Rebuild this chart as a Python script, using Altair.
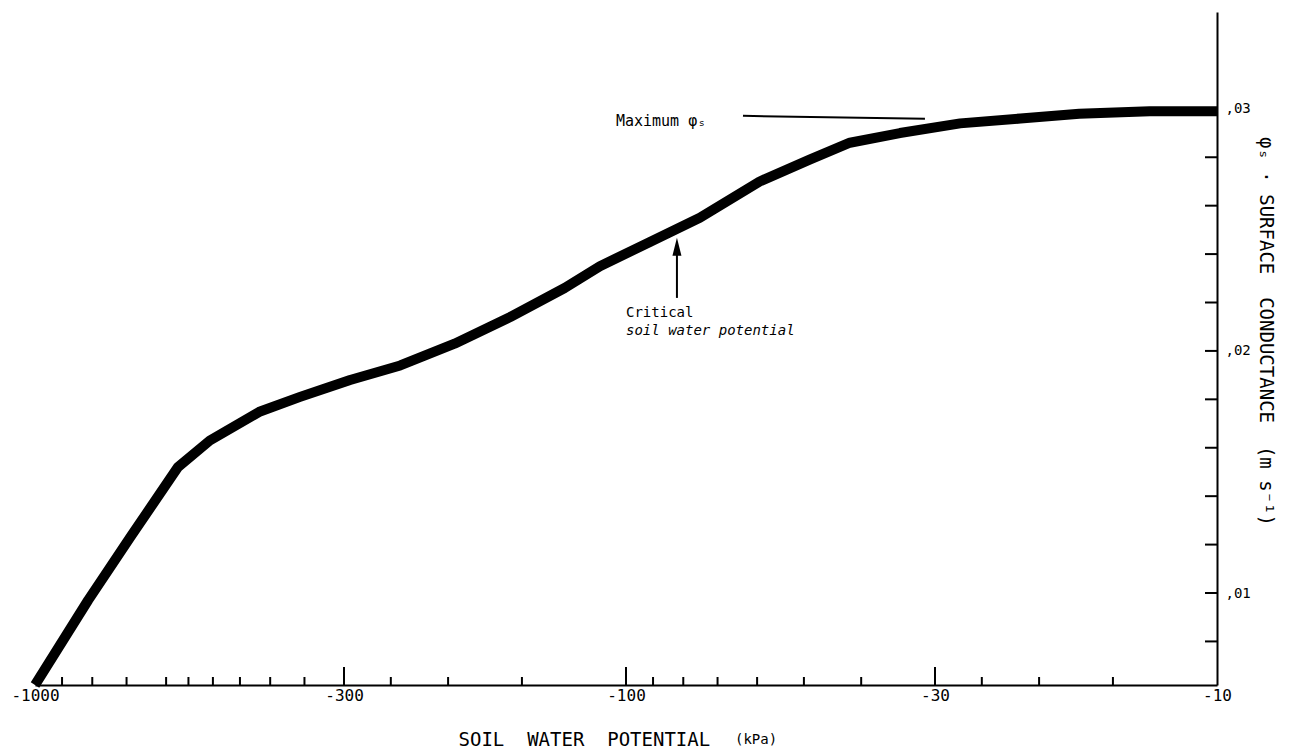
import altair as alt
import pandas as pd

# ---- data ----
psi = [1000, 813, 690, 573, 506, 416, 356, 293, 241, 195, 157, 127, 110.7,
       91.1, 75.0, 59.4, 48.9, 41.8, 34.4, 27.2, 21.5, 17.1, 13.0, 10]
cond = [0.0062, 0.0097, 0.0123, 0.0152, 0.0163, 0.0175, 0.0181, 0.0188,
        0.0194, 0.0203, 0.0214, 0.0226, 0.0235, 0.0245, 0.0255, 0.0270,
        0.0279, 0.0286, 0.0290, 0.0294, 0.0296, 0.0298, 0.0299, 0.0299]

x_label_values = [1000, 300, 100, 30, 10]
x_major_ticks = [300, 100, 30]
x_minor_ticks = [900, 800, 700, 600, 550, 500, 450, 400, 350, 250, 200, 150,
                 90, 80, 70, 60, 50, 40, 25, 20, 15]
y_label_values = [0.01, 0.02, 0.03]
y_ticks = [0.008, 0.010, 0.012, 0.014, 0.016, 0.018, 0.020, 0.022, 0.024,
           0.026, 0.028, 0.030]

max_label = ["Maximum φ\u209b"]
max_label_psi = [104]
max_label_cond = [0.0293]
pointer_psi = [63.4]
pointer_psi2 = [31.2]
pointer_cond = [0.02971]
pointer_cond2 = [0.02959]

crit_psi = [100]
crit_line1 = ["Critical"]
crit_line1_cond = [0.0214]
crit_line2 = ["soil water potential"]
crit_line2_cond = [0.02066]
arrow_psi = [82]
arrow_base_cond = [0.02219]
arrow_top_cond = [0.0241]
arrow_head_cond = [0.0243]

# ---- layout ----
W, H = 1182, 673
FONT = "DejaVu Sans Mono"
NB = "\u00a0"

xscale = alt.Scale(type="log", domain=[10, 1000], reverse=True, nice=False)
yscale = alt.Scale(domain=[0.0062, 0.034], nice=False, zero=False)

xaxis = alt.Axis(
    values=x_label_values, labelExpr="'-' + datum.value", ticks=False, tickSize=0,
    grid=False, domainColor="black", domainWidth=2, labelFont=FONT, labelFontSize=16,
    labelColor="black", labelPadding=2, labelFlush=False, labelOverlap=False,
    title=f"SOIL{NB}{NB}WATER{NB}{NB}POTENTIAL", titleFont=FONT, titleFontSize=19,
    titleFontWeight="normal", titleColor="black", titleX=423, titleY=60,
    titleAlign="left", titleBaseline="alphabetic")
yaxis = alt.Axis(
    orient="right", values=y_label_values,
    labelExpr="replace(format(datum.value, '.2f'), '0.', ',')",
    ticks=False, tickSize=0, grid=False, domainColor="black", domainWidth=2,
    labelFont=FONT, labelFontSize=14, labelColor="black", labelPadding=8,
    labelBaseline="middle", labelFlush=False,
    title=f"φ\u209b · SURFACE{NB}{NB}CONDUCTANCE{NB}{NB}(m s\u207b\u00b9)",
    titleFont=FONT, titleFontSize=19, titleFontWeight="normal", titleColor="black",
    titleAngle=90, titleX=48, titleY=319, titleAlign="center", titleBaseline="middle")

X = alt.X("psi:Q", scale=xscale, axis=xaxis)
Y = alt.Y("cond:Q", scale=yscale, axis=yaxis)

curve_df = pd.DataFrame({"psi": psi, "cond": cond})
curve = alt.Chart(curve_df).mark_line(
    color="black", strokeWidth=10, strokeJoin="round", strokeCap="butt"
).encode(x=X, y=Y)

major_df = pd.DataFrame({"psi": x_major_ticks})
minor_df = pd.DataFrame({"psi": x_minor_ticks})
xmaj = alt.Chart(major_df).mark_rule(color="black", strokeWidth=2).encode(
    x=X, y=alt.value(H), y2=alt.value(H - 18))
xmin = alt.Chart(minor_df).mark_rule(color="black", strokeWidth=2).encode(
    x=X, y=alt.value(H), y2=alt.value(H - 8))

yt_df = pd.DataFrame({"cond": y_ticks})
ytick = alt.Chart(yt_df).mark_rule(color="black", strokeWidth=2).encode(
    y=Y, x=alt.value(W - 12), x2=alt.value(W))

max_df = pd.DataFrame({"psi": max_label_psi, "cond": max_label_cond, "label": max_label})
max_text = alt.Chart(max_df).mark_text(
    font=FONT, fontSize=15, align="left", baseline="alphabetic", color="black"
).encode(x=X, y=Y, text="label:N")

ptr_df = pd.DataFrame({"psi": pointer_psi, "psi2": pointer_psi2,
                       "cond": pointer_cond, "cond2": pointer_cond2})
ptr = alt.Chart(ptr_df).mark_rule(color="black", strokeWidth=2).encode(
    x=X, x2="psi2:Q", y=Y, y2="cond2:Q")

c1_df = pd.DataFrame({"psi": crit_psi, "cond": crit_line1_cond, "label": crit_line1})
c2_df = pd.DataFrame({"psi": crit_psi, "cond": crit_line2_cond, "label": crit_line2})
c1 = alt.Chart(c1_df).mark_text(
    font=FONT, fontSize=14, align="left", baseline="alphabetic", color="black"
).encode(x=X, y=Y, text="label:N")
c2 = alt.Chart(c2_df).mark_text(
    font=FONT, fontSize=14, fontStyle="italic", align="left", baseline="alphabetic",
    color="black"
).encode(x=X, y=Y, text="label:N")

arrow_df = pd.DataFrame({"psi": arrow_psi, "cond": arrow_base_cond,
                         "cond2": arrow_top_cond, "head": arrow_head_cond})
shaft = alt.Chart(arrow_df).mark_rule(color="black", strokeWidth=2).encode(
    x=X, y=Y, y2="cond2:Q")
head = alt.Chart(arrow_df).mark_point(
    shape="M0,-1L-0.5,1L0.5,1Z", filled=True, color="black", opacity=1, size=324,
    strokeWidth=0
).encode(x=X, y=alt.Y("head:Q", scale=yscale, axis=yaxis))

kpa = alt.Chart(pd.DataFrame({"t": ["(kPa)"]})).mark_text(
    font=FONT, fontSize=14, align="left", baseline="alphabetic", color="black"
).encode(x=alt.value(700), y=alt.value(732), text="t:N")

chart = alt.layer(
    curve, xmin, xmaj, ytick, ptr, max_text, shaft, head, c1, c2, kpa
).properties(
    width=W, height=H,
    autosize=alt.AutoSizeParams(type="none"),
    padding={"left": 27, "top": 4, "right": 63, "bottom": 66},
    background="white",
).configure_view(stroke=None)

chart.save("out.html", embed_options={"renderer": "svg", "actions": False})
